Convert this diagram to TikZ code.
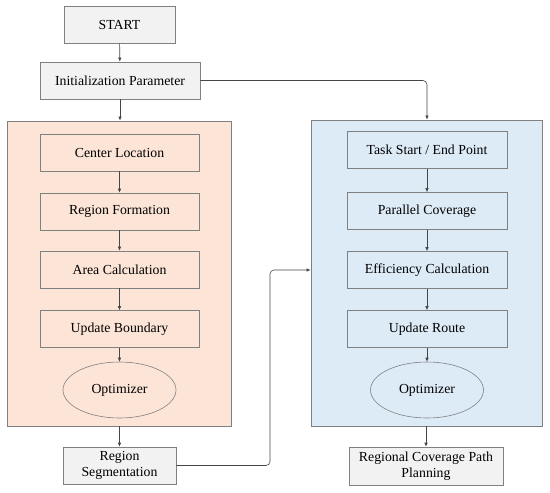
\documentclass[tikz,border=0pt]{standalone}
\usepackage{fontspec}
\setmainfont{Liberation Serif}
\usetikzlibrary{arrows.meta,shapes.geometric}
\definecolor{peach}{RGB}{252,228,214}
\definecolor{lblue}{RGB}{221,235,247}
\definecolor{lgray}{RGB}{242,242,242}
\definecolor{edgec}{RGB}{128,128,128}
\definecolor{linec}{RGB}{70,70,70}
\tikzset{
  box/.style={draw=edgec, line width=0.6pt, minimum width=160pt, minimum height=37pt, inner sep=1pt, font=\rmfamily\fontsize{13.8}{15.5}\selectfont, align=center},
  gbox/.style={box, fill=lgray},
  pbox/.style={box, fill=peach},
  bbox/.style={box, fill=lblue},
  oval/.style={ellipse, draw=edgec, line width=0.6pt, minimum width=113pt, minimum height=56pt, inner sep=0pt, font=\rmfamily\fontsize{13.8}{15.5}\selectfont},
  panel/.style={draw=edgec, line width=0.8pt},
  conn/.style={draw=linec, line width=0.6pt, -{Latex[length=4pt,width=3.5pt]}, rounded corners=4pt},
}
\begin{document}
\begin{tikzpicture}[x=1pt,y=-1pt]
\useasboundingbox (0,0) rectangle (550,493);
% panels
\node[panel, fill=peach, minimum width=224pt, minimum height=305pt, inner sep=0pt] (lp) at (119.5,273.5) {};
\node[panel, fill=lblue, minimum width=231pt, minimum height=306pt, inner sep=0pt] (rp) at (426.5,273) {};
% top
\node[gbox, minimum width=111pt] (start) at (119.5,24.5) {START};
\node[gbox] (init) at (120,80.5) {Initialization Parameter};
% left
\node[pbox, minimum width=159pt] (cl) at (119.5,152.5) {Center Location};
\node[pbox, minimum width=159pt] (rf) at (119.5,211.5) {Region Formation};
\node[pbox, minimum width=159pt] (ac) at (119.5,269.5) {Area Calculation};
\node[pbox, minimum width=159pt] (ub) at (119.5,329) {Update Boundary};
\node[oval, fill=peach] (lo) at (119.5,390) {Optimizer};
\node[gbox, minimum width=113pt] (rs) at (119.5,465.5) {Region\\Segmentation};
% right
\node[bbox] (ts) at (427,150) {Task Start / End Point};
\node[bbox] (pc) at (427,211) {Parallel Coverage};
\node[bbox] (ec) at (427,270) {Efficiency Calculation};
\node[bbox] (ur) at (427,329) {Update Route};
\node[oval, fill=lblue] (ro) at (427,390) {Optimizer};
\node[gbox, minimum width=154pt, minimum height=38pt] (rc) at (426,466) {Regional Coverage Path\\Planning};
% connectors
\draw[conn] (start) -- (init);
\draw[conn] (init.south) -- (lp.north -| init.south);
\draw[conn] (cl) -- (rf);
\draw[conn] (rf) -- (ac);
\draw[conn] (ac) -- (ub);
\draw[conn] (ub) -- (lo);
\draw[conn] (lp.south -| rs.north) -- (rs);
\draw[conn] (ts) -- (pc);
\draw[conn] (pc) -- (ec);
\draw[conn] (ec) -- (ur);
\draw[conn] (ur) -- (ro);
\draw[conn] (rp.south -| rc.north) -- (rc);
\coordinate (c1) at (427,80.5);
\draw[conn] (init.east) -- (c1) -- (rp.north -| c1);
\coordinate (c2) at (270,465.5);
\coordinate (c3) at (270,270);
\draw[conn] (rs.east) -- (c2) -- (c3) -- (c3 -| rp.west);
\end{tikzpicture}
\end{document}
